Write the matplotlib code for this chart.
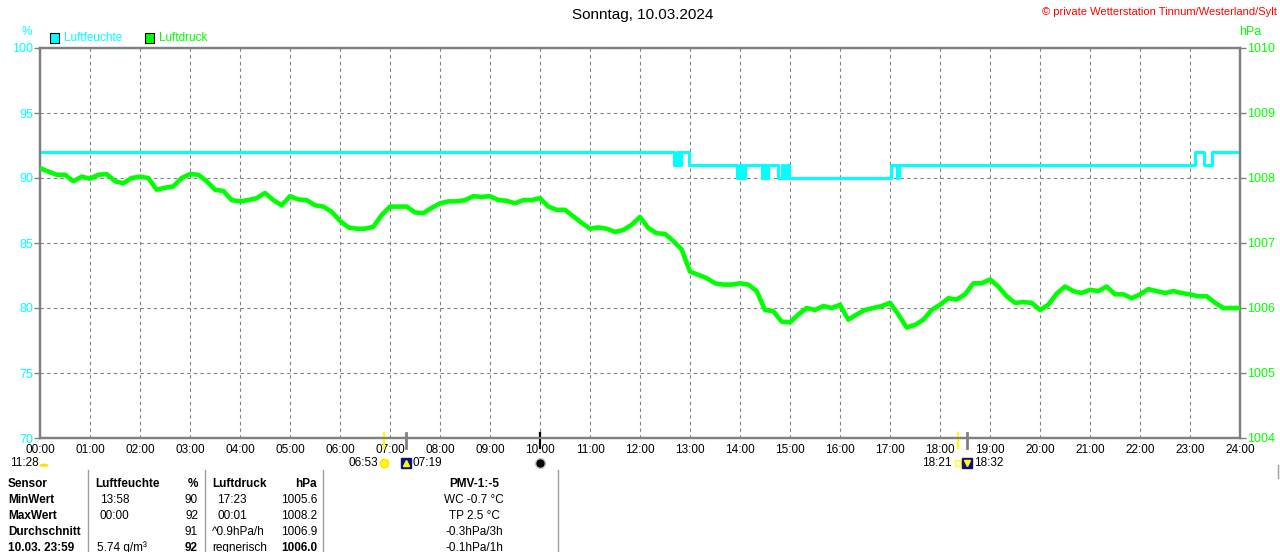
import numpy as np
import matplotlib
matplotlib.use("Agg")
import matplotlib.pyplot as plt
from matplotlib.patches import Rectangle, Wedge
from matplotlib.transforms import blended_transform_factory

plt.rcParams['font.family'] = ['Liberation Sans', 'DejaVu Sans']

# --- data ---------------------------------------------------------------
title = "Sonntag, 10.03.2024"
copyright_txt = "© private Wetterstation Tinnum/Westerland/Sylt"
hour_labels = ["%02d:00" % h for h in range(25)]

# Luftdruck, alle 10 Minuten ab 00:00 (hPa)
druck = [
    1008.15, 1008.10, 1008.05, 1008.05, 1007.95, 1008.02,
    1007.99, 1008.05, 1008.06, 1007.95, 1007.92, 1008.00,
    1008.02, 1008.00, 1007.82, 1007.85, 1007.87, 1008.00,
    1008.06, 1008.05, 1007.95, 1007.82, 1007.80, 1007.66,
    1007.64, 1007.66, 1007.69, 1007.77, 1007.66, 1007.58,
    1007.72, 1007.67, 1007.66, 1007.58, 1007.56, 1007.48,
    1007.34, 1007.24, 1007.22, 1007.22, 1007.25, 1007.43,
    1007.56, 1007.56, 1007.56, 1007.47, 1007.46, 1007.54,
    1007.61, 1007.64, 1007.64, 1007.66, 1007.72, 1007.71,
    1007.72, 1007.66, 1007.65, 1007.61, 1007.66, 1007.66,
    1007.69, 1007.56, 1007.51, 1007.51, 1007.41, 1007.31,
    1007.22, 1007.24, 1007.22, 1007.17, 1007.20, 1007.28,
    1007.40, 1007.23, 1007.15, 1007.14, 1007.03, 1006.90,
    1006.56, 1006.51, 1006.46, 1006.38, 1006.36, 1006.36,
    1006.38, 1006.36, 1006.26, 1005.97, 1005.95, 1005.79,
    1005.78, 1005.90, 1006.00, 1005.97, 1006.03, 1006.00,
    1006.05, 1005.82, 1005.90, 1005.97, 1006.00, 1006.03,
    1006.08, 1005.90, 1005.70, 1005.74, 1005.82, 1005.97,
    1006.05, 1006.15, 1006.13, 1006.21, 1006.38, 1006.38,
    1006.44, 1006.33, 1006.18, 1006.08, 1006.09, 1006.08,
    1005.97, 1006.05, 1006.22, 1006.33, 1006.26, 1006.23,
    1006.28, 1006.26, 1006.33, 1006.21, 1006.21, 1006.15,
    1006.21, 1006.29, 1006.26, 1006.23, 1006.26, 1006.23,
    1006.21, 1006.18, 1006.18, 1006.08, 1006.00, 1006.00,
    1006.00,
]
druck_min = np.arange(len(druck)) * 10

# Luftfeuchte als Stufen: Minute des Wechsels, neuer Wert (%)
feuchte_min = [0, 761, 764, 767, 769, 779, 836, 840, 842, 846, 866, 869, 871, 874,
               886, 890, 893, 896, 899, 1021, 1028, 1031, 1386, 1397, 1406, 1440]
feuchte_val = [92, 91, 92, 91, 92, 91, 90, 91, 90, 91, 90, 91, 90, 91,
               90, 91, 90, 91, 90, 91, 90, 91, 92, 91, 92, 92]

# Sonne / Mond
sun_up, civ_up = "06:53", "07:19"
sun_down, civ_down = "18:21", "18:32"
moon = "10:00"
tageslaenge = "11:28"

# Tabelle
tab_rows = [
    ["Sensor", "Luftfeuchte", "%", "Luftdruck", "hPa", "PMV-1:-5"],
    ["MinWert", "13:58", "90", "17:23", "1005.6", "WC -0.7 °C"],
    ["MaxWert", "00:00", "92", "00:01", "1008.2", "TP 2.5 °C"],
    ["Durchschnitt", "", "91", "^0.9hPa/h", "1006.9", "-0.3hPa/3h"],
    ["10.03. 23:59", "5.74 g/m³", "92", "regnerisch", "1006.0", "-0.1hPa/1h"],
]


def hm(s):
    h, m = s.split(":")
    return int(h) + int(m) / 60.0


W, H = 1280, 552
CYAN = "#00FFFF"
GREEN = "#00FF00"
GRAY = "#808080"

fig = plt.figure(figsize=(W / 100, H / 100), dpi=100)
ax = fig.add_axes([40 / W, 1 - 438 / H, 1200 / W, 390 / H])
ax2 = ax.twinx()


def ftext(x, y, s, **kw):
    kw.setdefault("fontsize", 8.5)
    kw.setdefault("va", "center")
    fig.text(x / W, 1 - y / H, s, **kw)


# humidity
fx = np.array(feuchte_min) / 60.0
ax.plot(fx, feuchte_val, drawstyle="steps-post", color=CYAN, lw=2.2, zorder=3)
ax.set_xlim(0, 24)
ax.set_ylim(70, 100)
ax.set_xticks(range(25))
ax.set_xticklabels(hour_labels, fontsize=8.5)
ax.tick_params(axis="x", length=0, pad=4)
ax.set_yticks(range(70, 101, 5))
ax.tick_params(axis="y", colors=GRAY, labelcolor=CYAN, labelsize=9, length=4, width=1, pad=1)
ax.grid(True, color=GRAY, linestyle=(0, (3, 3)), linewidth=0.8)

# pressure
ax2.plot(druck_min / 60.0, druck, color=GREEN, lw=3.3, zorder=3)
ax2.set_ylim(1004, 1010)
ax2.set_yticks(range(1004, 1011))
ax2.tick_params(axis="y", colors=GRAY, labelcolor=GREEN, labelsize=9, length=4, width=1, pad=1)

for a in (ax, ax2):
    for sp in a.spines.values():
        sp.set_color(GRAY)
        sp.set_linewidth(1.6)

# legend + units
fig.patches.append(Rectangle((50 / W, 1 - 43 / H), 9 / W, 10 / H, transform=fig.transFigure,
                             facecolor=CYAN, edgecolor="black", lw=0.8))
ftext(64, 38, "Luftfeuchte", color=CYAN)
fig.patches.append(Rectangle((145 / W, 1 - 43 / H), 9 / W, 10 / H, transform=fig.transFigure,
                             facecolor=GREEN, edgecolor="black", lw=0.8))
ftext(159, 38, "Luftdruck", color=GREEN)
ftext(27, 32, "%", color=CYAN, ha="center")
ftext(1250, 32, "hPa", color=GREEN, ha="center", fontsize=9)

ftext(643, 15, title, ha="center", fontsize=11)
ftext(1277, 12, copyright_txt, ha="right", color="red", fontsize=8)

# sun / moon marks under the axis
tr = blended_transform_factory(ax.transData, fig.transFigure)
y0, y1 = 1 - 433 / H, 1 - 448 / H
ylab = 1 - 463 / H
for t, c, lw in [(sun_up, "yellow", 1.6), (civ_up, GRAY, 2), (moon, "black", 1.6),
                 (sun_down, "yellow", 1.6), (civ_down, GRAY, 2)]:
    ax.plot([hm(t)] * 2, [y0, y1], color=c, lw=lw, transform=tr, clip_on=False, zorder=5)

ax.plot(hm(sun_up), ylab, marker="o", ms=6, color="yellow", mec="#FFE000", transform=tr, clip_on=False)
ax.plot(hm(civ_up), ylab, marker="s", ms=7, color="#10107A", transform=tr, clip_on=False)
ax.plot(hm(civ_up), ylab, marker="^", ms=4, color="yellow", transform=tr, clip_on=False)
ax.plot(hm(sun_down), ylab, marker="s", ms=5, mfc="none", mec="yellow", transform=tr, clip_on=False)
ax.plot(hm(civ_down), ylab, marker="s", ms=7, color="#10107A", transform=tr, clip_on=False)
ax.plot(hm(civ_down), ylab, marker="v", ms=4, color="yellow", transform=tr, clip_on=False)
ax.plot(hm(moon), ylab, marker="o", ms=7, color="black", mec="#C0C0C0", transform=tr, clip_on=False)
ax.text(hm(sun_up) - 0.12, ylab, sun_up, transform=tr, ha="right", va="center", fontsize=8.5)
ax.text(hm(civ_up) + 0.14, ylab, civ_up, transform=tr, ha="left", va="center", fontsize=8.5)
ax.text(hm(sun_down) - 0.12, ylab, sun_down, transform=tr, ha="right", va="center", fontsize=8.5)
ax.text(hm(civ_down) + 0.14, ylab, civ_down, transform=tr, ha="left", va="center", fontsize=8.5)
ftext(10, 463, tageslaenge)
fig.patches.append(Wedge((44 / W, 1 - 466 / H), 4 / W, 0, 180,
                         transform=fig.transFigure, color="#FFE000"))

# table
col_x = [8, 100, 198, 212, 317, 474]
col_ha = ["left", "left", "right", "left", "right", "center"]
row_y = [484, 500, 516, 532, 548]
for r, (row, y) in enumerate(zip(tab_rows, row_y)):
    for c, s in enumerate(row):
        bold = (r == 0) or (c == 0) or (r == 4 and c in (2, 4))
        x = col_x[c]
        if r == 0 and c == 1:
            x = 95
        if r > 0 and c == 1 and s and ":" not in s:
            x = 97
        if r > 0 and c == 3 and ":" in s:
            x = 217
        ftext(x, y, s, ha=col_ha[c], fontweight="bold" if bold else "normal")

for x in (88, 205, 323, 558):
    fig.add_artist(plt.Line2D([x / W, x / W], [1 - 470 / H, 0], color="#A0A0A0", lw=1,
                              transform=fig.transFigure))
fig.add_artist(plt.Line2D([1278 / W, 1278 / W], [1 - 465 / H, 1 - 478 / H], color="#A0A0A0", lw=1,
                          transform=fig.transFigure))

fig.savefig("out.png", dpi=100)
